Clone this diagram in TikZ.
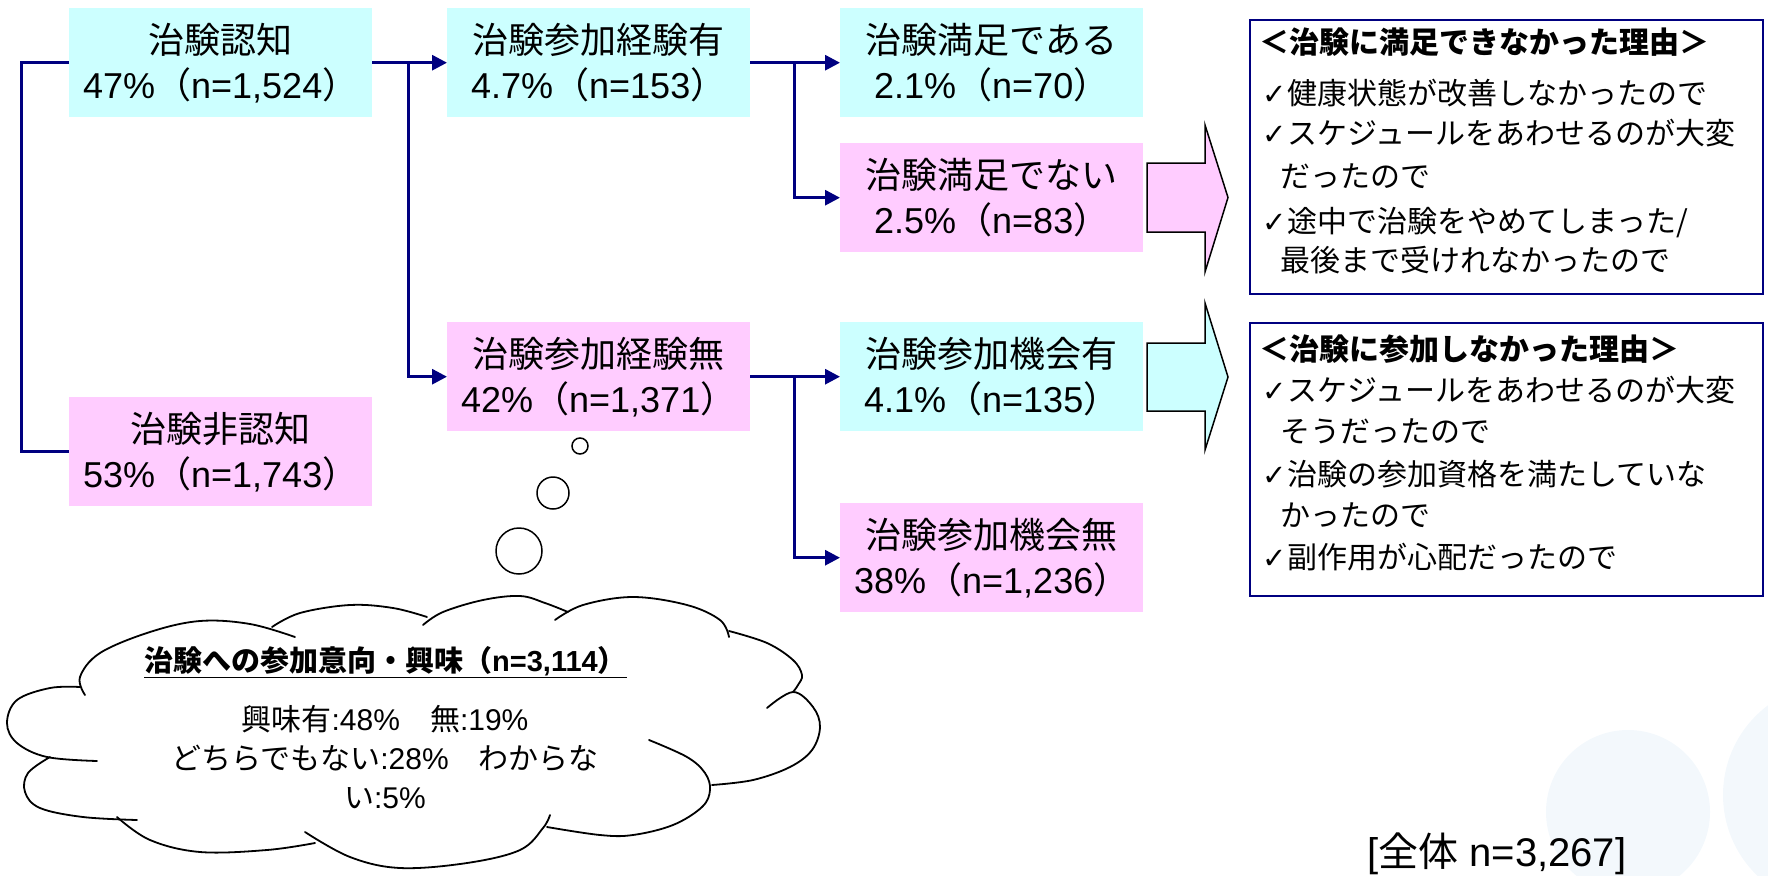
\documentclass[tikz,border=0pt]{standalone}
\usepackage{fontspec}
\setmainfont{Liberation Sans}
\newfontfamily\jpfont{Noto Sans CJK JP}
\newfontfamily\dvfont{DejaVu Sans}
\usetikzlibrary{arrows.meta,calc}
\definecolor{boxcyan}{HTML}{CCFFFF}
\definecolor{boxpink}{HTML}{FFCCFF}
\definecolor{linenavy}{HTML}{000080}
\definecolor{faintblue}{HTML}{F3F8FC}
\newcommand{\jlp}{{\jpfont （}}
\newcommand{\jrp}{{\jpfont ）}}
\newcommand{\chk}{\makebox[25pt][l]{\dvfont\fontsize{29}{29}\selectfont ✓}}
\begin{document}
\begin{tikzpicture}[x=1pt,y=-1pt,
  flowbox/.style={anchor=north west, minimum width=303pt, minimum height=109pt, inner sep=0pt, align=center, font=\fontsize{36}{45}\selectfont},
  cyanbox/.style={flowbox, fill=boxcyan},
  pinkbox/.style={flowbox, fill=boxpink},
  conn/.style={draw=linenavy, line width=3pt},
  connarrow/.style={conn, -{Triangle[length=15pt,width=15pt]}},
  reasonbox/.style={draw=linenavy, line width=1.8pt, anchor=north west, inner sep=0pt, minimum width=513pt},
  reasonline/.style={anchor=base west, inner sep=0pt, font=\fontsize{30}{30}\selectfont\jpfont},
  blockarrow/.style={draw=black, line width=1.5pt},
  bubble/.style={draw=black, line width=1.5pt, fill=white},
  cloudline/.style={draw=black, line width=1.8pt, line cap=round},
]
\useasboundingbox (0,0) rectangle (1768,875);
% faint background decoration
\fill[faintblue] (1628,812) circle[radius=82];
\fill[faintblue] (1835,795) circle[radius=112];

% flow boxes
\node[cyanbox] (rec) at (69,8) {{\jpfont 治験認知}\\47\%\jlp n=1,524\jrp};
\node[pinkbox] (nonrec) at (69,397) {{\jpfont 治験非認知}\\53\%\jlp n=1,743\jrp};
\node[cyanbox] (exp) at (447,8) {{\jpfont 治験参加経験有}\\4.7\%\jlp n=153\jrp};
\node[pinkbox] (noexp) at (447,322) {{\jpfont 治験参加経験無}\\42\%\jlp n=1,371\jrp};
\node[cyanbox] (sat) at (840,8) {{\jpfont 治験満足である}\\2.1\%\jlp n=70\jrp};
\node[pinkbox] (unsat) at (840,143) {{\jpfont 治験満足でない}\\2.5\%\jlp n=83\jrp};
\node[cyanbox] (opp) at (840,322) {{\jpfont 治験参加機会有}\\4.1\%\jlp n=135\jrp};
\node[pinkbox] (noopp) at (840,503) {{\jpfont 治験参加機会無}\\38\%\jlp n=1,236\jrp};

% connectors
\draw[conn] (rec.west) -- ++(-48,0) |- (nonrec.west);
\coordinate (j1) at ($(rec.east)+(36,0)$);
\draw[connarrow] (rec.east) -- (exp.west);
\draw[connarrow] (j1) |- (noexp.west);
\coordinate (j2) at ($(exp.east)+(44,0)$);
\draw[connarrow] (exp.east) -- (sat.west);
\draw[connarrow] (j2) |- (unsat.west);
\coordinate (j3) at ($(noexp.east)+(44,0)$);
\draw[connarrow] (noexp.east) -- (opp.west);
\draw[connarrow] (j3) |- (noopp.west);

% block arrows
\draw[blockarrow, fill=boxpink] (1147,163) -- (1205,163) -- (1205,125) -- (1228,197.5) -- (1205,272) -- (1205,232) -- (1147,232) -- cycle;
\draw[blockarrow, fill=boxcyan] (1147,343) -- (1205,343) -- (1205,303) -- (1228,377) -- (1205,450) -- (1205,411) -- (1147,411) -- cycle;

% reason boxes
\node[reasonbox, minimum height=274pt] (why1) at (1249,19) {};
\node[reasonbox, minimum height=273pt] (why2) at (1249,322) {};
\node[reasonline] (w1t) at (1259,54) {\bfseries ＜治験に満足できなかった理由＞};
\node[reasonline] (w1a) at (1262,104) {\chk 健康状態が改善しなかったので};
\node[reasonline] (w1b) at (1262,144) {\chk スケジュールをあわせるのが大変};
\node[reasonline] (w1c) at (1280,187) {だったので};
\node[reasonline] (w1d) at (1262,232) {\chk 途中で治験をやめてしまった/};
\node[reasonline] (w1e) at (1280,271) {最後まで受けれなかったので};
\node[reasonline] (w2t) at (1259,360) {\bfseries ＜治験に参加しなかった理由＞};
\node[reasonline] (w2a) at (1262,401) {\chk スケジュールをあわせるのが大変};
\node[reasonline] (w2b) at (1280,442) {そうだったので};
\node[reasonline] (w2c) at (1262,485) {\chk 治験の参加資格を満たしていな};
\node[reasonline] (w2d) at (1280,526) {かったので};
\node[reasonline] (w2e) at (1262,568) {\chk 副作用が心配だったので};

% thought bubbles
\draw[bubble] (580,446) circle[radius=8];
\draw[bubble] (553,493) circle[radius=16];
\draw[bubble] (519,551) circle[radius=23];

% cloud
\draw[cloudline] plot[smooth, tension=0.6] coordinates {(85,695) (80,677) (100,653) (150,632) (200,621) (250,624) (295,637)};
\draw[cloudline] plot[smooth, tension=0.6] coordinates {(272,627) (300,613) (350,605) (393,608) (427,617)};
\draw[cloudline] plot[smooth, tension=0.6] coordinates {(423,625) (443,612) (483,600) (520,596) (545,603) (568,612)};
\draw[cloudline] plot[smooth, tension=0.6] coordinates {(555,620) (583,605) (633,597) (687,605) (720,620) (729,637)};
\draw[cloudline] plot[smooth, tension=0.6] coordinates {(729,631) (767,643) (793,660) (802,675) (798,685) (793,692)};
\draw[cloudline] plot[smooth, tension=0.6] coordinates {(767,708) (793,692) (813,707) (820,727) (812,750) (790,767) (753,780) (712,785)};
\draw[cloudline] plot[smooth, tension=0.6] coordinates {(649,740) (687,757) (705,773) (710,790) (702,807) (673,825) (633,835) (600,835) (547,827)};
\draw[cloudline] plot[smooth, tension=0.6] coordinates {(550,815) (543,828) (520,850) (467,863) (400,868) (350,857) (305,832)};
\draw[cloudline] plot[smooth, tension=0.6] coordinates {(315,843) (267,850) (200,852) (150,840) (117,817)};
\draw[cloudline] plot[smooth, tension=0.6] coordinates {(137,820) (83,817) (40,808) (25,792) (28,773) (50,757)};
\draw[cloudline] plot[smooth, tension=0.6] coordinates {(97,761) (47,757) (17,743) (7,723) (17,700) (50,688) (80,687)};

\node[anchor=base, inner sep=0pt, font=\fontsize{29}{29}\selectfont\bfseries] (ctitle) at (385.5,671) {\underline{{\jpfont 治験への参加意向・興味}\jlp n=3,114\jrp}};
\node[align=center, inner sep=0pt, font=\fontsize{30}{39}\selectfont] (cbody) at (385,757) {{\jpfont 興味有}:48\%{\jpfont 　無}:19\%\\{\jpfont どちらでもない}:28\%{\jpfont 　わからな}\\{\jpfont い}:5\%};

% footer
\node[anchor=base west, inner sep=0pt, font=\fontsize{40}{40}\selectfont] (total) at (1367,866) {[{\jpfont 全体} n=3,267]};
\end{tikzpicture}
\end{document}
